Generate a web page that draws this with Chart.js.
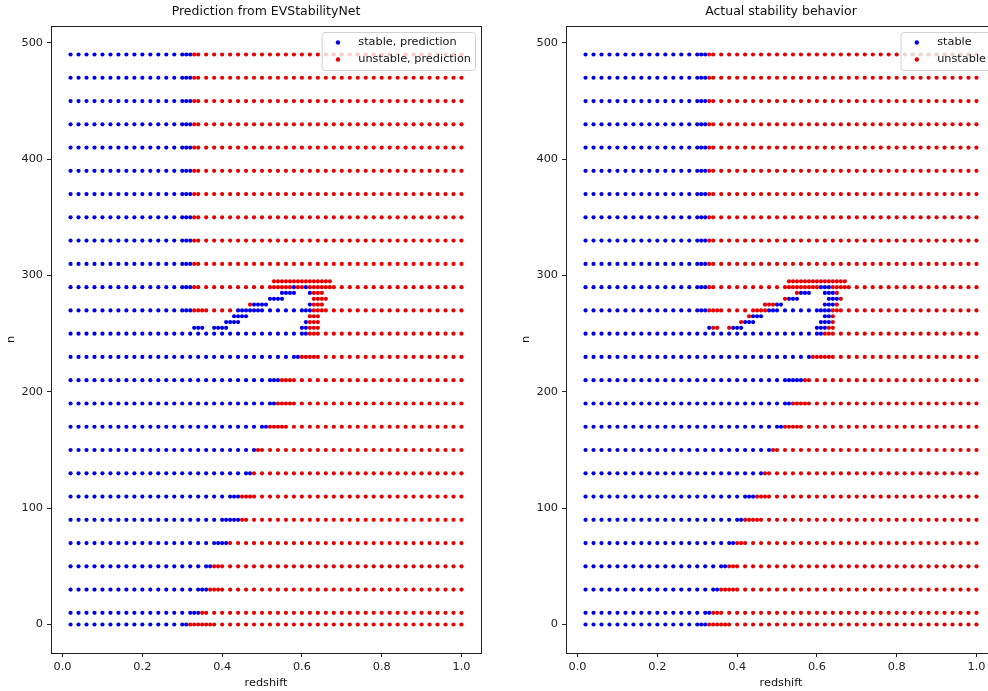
<!DOCTYPE html>
<html>
<head>
<meta charset="utf-8">
<script src="https://cdn.jsdelivr.net/npm/chart.js@4/dist/chart.umd.min.js"></script>
<style>
  html, body { margin: 0; padding: 0; background: #fff; }
  body { width: 988px; height: 691px; overflow: hidden; position: relative; }
  canvas { position: absolute; top: 0; }
  #predChart { left: 0; }
  #actualChart { left: 515px; }
</style>
</head>
<body>
<canvas id="predChart" width="495" height="691"></canvas>
<canvas id="actualChart" width="495" height="691"></canvas>
<script>
// sampled redshift grid (coarse)
const coarseX = [0.02, 0.04, 0.06, 0.08, 0.10, 0.12, 0.14, 0.16, 0.18, 0.20,
  0.22, 0.24, 0.26, 0.28, 0.30, 0.32, 0.34, 0.36, 0.38, 0.40,
  0.42, 0.44, 0.46, 0.48, 0.50, 0.52, 0.54, 0.56, 0.58, 0.60,
  0.62, 0.64, 0.66, 0.68, 0.70, 0.72, 0.74, 0.76, 0.78, 0.80,
  0.82, 0.84, 0.86, 0.88, 0.90, 0.92, 0.94, 0.96, 0.98, 1.00];

// n values sampled on the coarse grid, and extra rows sampled only near the boundary
const gridRows = [0, 10, 30, 50, 70, 90, 110, 130, 150, 170, 190, 210, 230, 250,
  270, 290, 310, 330, 350, 370, 390, 410, 430, 450, 470, 490];
const blobRows = [255, 260, 265, 275, 280, 285, 295];

// refined sampling windows (step 0.01) per row
const fineWindows = {
  0: [[0.30, 0.38]], 10: [[0.32, 0.36]], 30: [[0.34, 0.40]], 50: [[0.36, 0.40]],
  70: [[0.38, 0.42]], 90: [[0.40, 0.46]], 110: [[0.42, 0.48]], 130: [[0.46, 0.48]],
  150: [[0.48, 0.50]], 170: [[0.50, 0.56]], 190: [[0.52, 0.58]], 210: [[0.52, 0.58]],
  230: [[0.58, 0.64]], 250: [[0.60, 0.64]],
  255: [[0.33, 0.35], [0.38, 0.41], [0.60, 0.64]],
  260: [[0.41, 0.44], [0.61, 0.64]],
  265: [[0.43, 0.46], [0.62, 0.64]],
  270: [[0.30, 0.36], [0.44, 0.49], [0.61, 0.66]],
  275: [[0.47, 0.51], [0.62, 0.65]],
  280: [[0.52, 0.55], [0.63, 0.66]],
  285: [[0.55, 0.58], [0.62, 0.65]],
  290: [[0.30, 0.34], [0.53, 0.67]],
  295: [[0.53, 0.67]],
  310: [[0.30, 0.34]], 330: [[0.30, 0.34]], 350: [[0.30, 0.34]], 370: [[0.30, 0.34]],
  390: [[0.30, 0.34]], 410: [[0.30, 0.34]], 430: [[0.30, 0.34]], 450: [[0.30, 0.34]],
  470: [[0.30, 0.34]], 490: [[0.30, 0.34]]
};

// redshift intervals classified as stable
const predictedStable = {
  0: [[0, 0.31]], 10: [[0, 0.34]], 30: [[0, 0.36]], 50: [[0, 0.37]], 70: [[0, 0.41]],
  90: [[0, 0.44]], 110: [[0, 0.44]], 130: [[0, 0.47]], 150: [[0, 0.48]], 170: [[0, 0.51]],
  190: [[0, 0.53]], 210: [[0, 0.54]], 230: [[0, 0.59]], 250: [[0, 0.61]],
  255: [[0, 0.61]], 260: [[0, 0.61]], 265: [[0, 0.61]],
  270: [[0, 0.32], [0.44, 0.62]], 275: [[0.48, 0.62]], 280: [[0.52, 0.55]],
  285: [[0.55, 0.62]], 290: [[0, 0.32], [0.58, 0.58], [0.61, 0.61]], 295: [],
  310: [[0, 0.32]], 330: [[0, 0.32]], 350: [[0, 0.32]], 370: [[0, 0.32]], 390: [[0, 0.32]],
  410: [[0, 0.32]], 430: [[0, 0.32]], 450: [[0, 0.32]], 470: [[0, 0.32]], 490: [[0, 0.32]]
};
const actualStable = {
  0: [[0, 0.32]], 10: [[0, 0.33]], 30: [[0, 0.35]], 50: [[0, 0.37]], 70: [[0, 0.39]],
  90: [[0, 0.41]], 110: [[0, 0.44]], 130: [[0, 0.46]], 150: [[0, 0.48]], 170: [[0, 0.51]],
  190: [[0, 0.53]], 210: [[0, 0.56]], 230: [[0, 0.58]], 250: [[0, 0.61]],
  255: [[0, 0.33], [0.39, 0.62]], 260: [[0.42, 0.63]], 265: [[0.44, 0.63]],
  270: [[0, 0.32], [0.48, 0.63]], 275: [[0.50, 0.64]], 280: [[0.53, 0.65]],
  285: [[0.56, 0.64]], 290: [[0, 0.32], [0.61, 0.63]], 295: [],
  310: [[0, 0.32]], 330: [[0, 0.32]], 350: [[0, 0.32]], 370: [[0, 0.32]], 390: [[0, 0.32]],
  410: [[0, 0.32]], 430: [[0, 0.32]], 450: [[0, 0.32]], 470: [[0, 0.32]], 490: [[0, 0.32]]
};

const xTicks = [0, 0.2, 0.4, 0.6, 0.8, 1.0];
const yTicks = [0, 100, 200, 300, 400, 500];

const FONT = '"DejaVu Sans", sans-serif';
const AXIS_COLOR = '#222';

function rowSamples(n) {
  const xs = new Set();
  if (gridRows.includes(n)) coarseX.forEach(x => xs.add(Math.round(x * 100)));
  (fineWindows[n] || []).forEach(([a, b]) => {
    for (let k = Math.round(a * 100); k <= Math.round(b * 100); k++) xs.add(k);
  });
  return [...xs].sort((a, b) => a - b).map(k => k / 100);
}

function splitPoints(stableMap) {
  const stable = [];
  const unstable = [];
  gridRows.concat(blobRows).forEach(n => {
    const intervals = stableMap[n] || [];
    rowSamples(n).forEach(x => {
      const isStable = intervals.some(([a, b]) => x >= a - 1e-9 && x <= b + 1e-9);
      (isStable ? stable : unstable).push({ x: x, y: n });
    });
  });
  return { stable, unstable };
}

const frameBox = {
  id: 'frameBox',
  afterDraw(chart) {
    const { ctx, chartArea } = chart;
    ctx.save();
    ctx.strokeStyle = AXIS_COLOR;
    ctx.lineWidth = 1;
    ctx.strokeRect(Math.round(chartArea.left) + 0.5, Math.round(chartArea.top) + 0.5,
      Math.round(chartArea.right - chartArea.left), Math.round(chartArea.bottom - chartArea.top));
    ctx.restore();
  }
};

// matplotlib-style legend in the upper right corner of the axes
const insideLegend = {
  id: 'insideLegend',
  afterDraw(chart) {
    const { ctx, chartArea } = chart;
    const fs = 11.3;
    ctx.save();
    ctx.font = fs + 'px ' + FONT;
    const items = chart.data.datasets.map(ds => ({ text: ds.label, color: ds.backgroundColor }));
    const textW = Math.max(...items.map(i => ctx.measureText(i.text).width));
    const pad = 0.4 * fs, handle = 2 * fs, gap = 0.8 * fs, lineH = 17;
    const w = pad + handle + gap + textW + pad;
    const h = 38;
    const right = chartArea.right - 5.5;
    const left = right - w;
    const top = chartArea.top + 6.5;
    ctx.beginPath();
    ctx.roundRect(left, top, w, h, 3);
    ctx.fillStyle = 'rgba(255,255,255,0.8)';
    ctx.fill();
    ctx.strokeStyle = '#d0d0d0';
    ctx.lineWidth = 1;
    ctx.stroke();
    items.forEach((it, i) => {
      const cy = top + 10 + i * lineH;
      ctx.beginPath();
      ctx.arc(left + pad + handle / 2, cy, 2.2, 0, Math.PI * 2);
      ctx.fillStyle = it.color;
      ctx.fill();
      ctx.fillStyle = '#111';
      ctx.textBaseline = 'middle';
      ctx.textAlign = 'left';
      ctx.fillText(it.text, left + pad + handle + gap, cy);
    });
    ctx.restore();
  }
};

function makeChart(canvasId, title, stableMap, stableLabel, unstableLabel) {
  const pts = splitPoints(stableMap);
  return new Chart(document.getElementById(canvasId), {
    type: 'scatter',
    data: {
      datasets: [
        { label: stableLabel, data: pts.stable, backgroundColor: '#0000e6', borderWidth: 0,
          pointRadius: 2.1, order: 2 },
        { label: unstableLabel, data: pts.unstable, backgroundColor: '#e60000', borderWidth: 0,
          pointRadius: 2.1, order: 1 }
      ]
    },
    options: {
      responsive: false,
      animation: false,
      devicePixelRatio: 1,
      layout: { padding: { left: 0, right: 14, top: 0, bottom: 0 } },
      plugins: {
        legend: { display: false },
        tooltip: { enabled: false },
        title: {
          display: true,
          text: title,
          fullSize: false,
          color: '#111',
          font: { family: FONT, size: 12.5, weight: 'normal', lineHeight: 1.2 },
          padding: { top: 4, bottom: 7 }
        }
      },
      scales: {
        x: {
          type: 'linear',
          min: -0.029,
          max: 1.049,
          afterBuildTicks: s => { s.ticks = xTicks.map(v => ({ value: v })); },
          afterFit: s => { s.height = 38; },
          ticks: {
            color: AXIS_COLOR, padding: 3, maxRotation: 0,
            font: { family: FONT, size: 11.3 },
            callback: v => v.toFixed(1)
          },
          grid: { drawOnChartArea: false, drawTicks: true, tickLength: 4, color: AXIS_COLOR },
          border: { display: true, color: AXIS_COLOR },
          title: {
            display: true, text: 'redshift', color: '#111',
            font: { family: FONT, size: 11.3 }, padding: { top: 0, bottom: 1 }
          }
        },
        y: {
          type: 'linear',
          min: -24.5,
          max: 514.5,
          afterBuildTicks: s => { s.ticks = yTicks.map(v => ({ value: v })); },
          afterFit: s => { s.width = 51; },
          ticks: { color: AXIS_COLOR, padding: 4, font: { family: FONT, size: 11.3 } },
          grid: { drawOnChartArea: false, drawTicks: true, tickLength: 4, color: AXIS_COLOR },
          border: { display: true, color: AXIS_COLOR },
          title: {
            display: true, text: 'n', color: '#111',
            font: { family: FONT, size: 11.3 }, padding: { top: 4, bottom: 0 }
          }
        }
      }
    },
    plugins: [frameBox, insideLegend]
  });
}

makeChart('predChart', 'Prediction from EVStabilityNet', predictedStable,
  'stable, prediction', 'unstable, prediction');
makeChart('actualChart', 'Actual stability behavior', actualStable,
  'stable', 'unstable');
</script>
</body>
</html>
